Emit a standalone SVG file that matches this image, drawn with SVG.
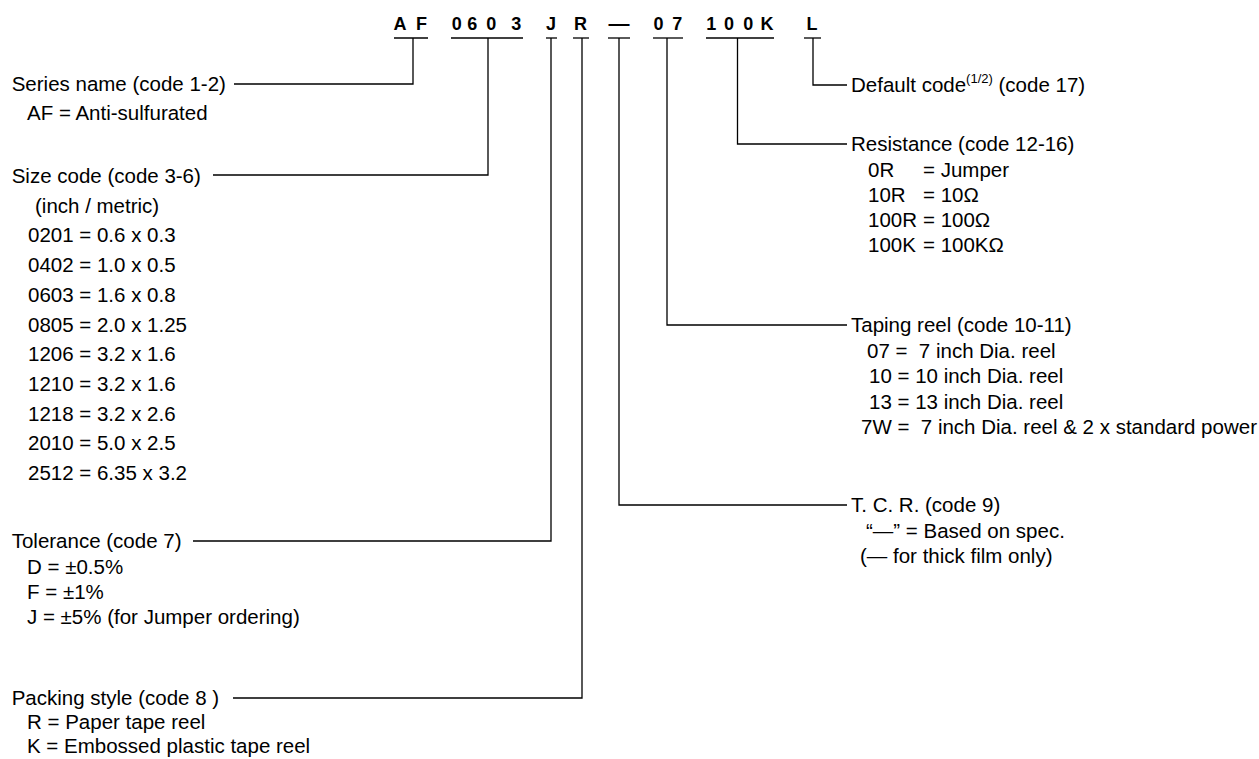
<svg xmlns="http://www.w3.org/2000/svg" width="1259" height="759" viewBox="0 0 1259 759">
<style>
.h{font-family:"Liberation Sans",Arial,sans-serif;font-weight:bold;font-size:18px;fill:#000;text-anchor:middle}
.t{font-family:"Liberation Sans",Arial,sans-serif;font-size:20.5px;fill:#000}
.sup{font-size:13px}
.ln{stroke:#000;stroke-width:1.3;fill:none}
</style>
<rect width="1259" height="759" fill="#fff"/>
<g id="part-number">
<g id="code-AF"><text class="h" y="30"><tspan x="400">A</tspan><tspan x="421.5">F</tspan></text><line class="ln" x1="394" y1="38" x2="428" y2="38"/></g>
<g id="code-0603"><text class="h" y="30"><tspan x="456.7">0</tspan><tspan x="472.3">6</tspan><tspan x="491.3">0</tspan><tspan x="516.2">3</tspan></text><line class="ln" x1="451" y1="38" x2="523" y2="38"/></g>
<g id="code-J"><text class="h" y="30" x="551">J</text><line class="ln" x1="546" y1="38" x2="557" y2="38"/></g>
<g id="code-R"><text class="h" y="30" x="580.5">R</text><line class="ln" x1="573" y1="38" x2="589" y2="38"/></g>
<g id="code-dash"><text class="h" y="30" x="619" style="font-size:21px">—</text><line class="ln" x1="608" y1="38" x2="630" y2="38"/></g>
<g id="code-07"><text class="h" y="30"><tspan x="658.5">0</tspan><tspan x="677.2">7</tspan></text><line class="ln" x1="653" y1="38" x2="683" y2="38"/></g>
<g id="code-100K"><text class="h" y="30"><tspan x="711.3">1</tspan><tspan x="729">0</tspan><tspan x="748.3">0</tspan><tspan x="767">K</tspan></text><line class="ln" x1="706" y1="38" x2="774" y2="38"/></g>
<g id="code-L"><text class="h" y="30" x="812">L</text><line class="ln" x1="804" y1="38" x2="821" y2="38"/></g>
</g>
<g id="connectors">
<polyline class="ln" points="413,38 413,84 234,84"/>
<polyline class="ln" points="488,38 488,175 213,175"/>
<polyline class="ln" points="551,38 551,541 193,541"/>
<polyline class="ln" points="582,38 582,698 233,698"/>
<polyline class="ln" points="619,38 619,505 847,505"/>
<polyline class="ln" points="667,38 667,325 847,325"/>
<polyline class="ln" points="737.5,38 737.5,144 847,144"/>
<polyline class="ln" points="813,38 813,85 847,85"/>
</g>
<g id="series-name">
<text class="t" x="11.7" y="91">Series name (code 1-2)</text>
<text class="t" x="27" y="120">AF = Anti-sulfurated</text>
</g>
<g id="size-code">
<text class="t" x="11.7" y="183">Size code (code 3-6)</text>
<text class="t" x="35" y="212.7">(inch / metric)</text>
<text class="t" x="28" y="242.4">0201 = 0.6 x 0.3</text>
<text class="t" x="28" y="272.1">0402 = 1.0 x 0.5</text>
<text class="t" x="28" y="301.8">0603 = 1.6 x 0.8</text>
<text class="t" x="28" y="331.5">0805 = 2.0 x 1.25</text>
<text class="t" x="28" y="361.2">1206 = 3.2 x 1.6</text>
<text class="t" x="28" y="390.9">1210 = 3.2 x 1.6</text>
<text class="t" x="28" y="420.6">1218 = 3.2 x 2.6</text>
<text class="t" x="28" y="450.3">2010 = 5.0 x 2.5</text>
<text class="t" x="28" y="480">2512 = 6.35 x 3.2</text>
</g>
<g id="tolerance">
<text class="t" x="11.7" y="548">Tolerance (code 7)</text>
<text class="t" x="27" y="574">D = ±0.5%</text>
<text class="t" x="27" y="599">F = ±1%</text>
<text class="t" x="27" y="624">J = ±5% (for Jumper ordering)</text>
</g>
<g id="packing-style">
<text class="t" x="11.7" y="705">Packing style (code 8 )</text>
<text class="t" x="27" y="729">R = Paper tape reel</text>
<text class="t" x="27" y="753">K = Embossed plastic tape reel</text>
</g>
<g id="default-code">
<text class="t" x="851" y="92">Default code<tspan class="sup" dy="-9">(1/2)</tspan><tspan dy="9"> (code 17)</tspan></text>
</g>
<g id="resistance">
<text class="t" x="851" y="151">Resistance (code 12-16)</text>
<text class="t" x="868" y="177">0R</text><text class="t" x="923" y="177">= Jumper</text>
<text class="t" x="868" y="202">10R</text><text class="t" x="923" y="202">= 10Ω</text>
<text class="t" x="868" y="227">100R</text><text class="t" x="923" y="227">= 100Ω</text>
<text class="t" x="868" y="252">100K</text><text class="t" x="923" y="252">= 100KΩ</text>
</g>
<g id="taping-reel">
<text class="t" x="851" y="332">Taping reel (code 10-11)</text>
<text class="t" x="867" y="357.5" xml:space="preserve">07 =  7 inch Dia. reel</text>
<text class="t" x="869" y="383">10 = 10 inch Dia. reel</text>
<text class="t" x="869" y="408.5">13 = 13 inch Dia. reel</text>
<text class="t" x="861" y="434" xml:space="preserve">7W =  7 inch Dia. reel &amp; 2 x standard power</text>
</g>
<g id="tcr">
<text class="t" x="851" y="512">T. C. R. (code 9)</text>
<text class="t" x="866" y="538">“—” = Based on spec.</text>
<text class="t" x="860" y="563">(— for thick film only)</text>
</g>
</svg>
